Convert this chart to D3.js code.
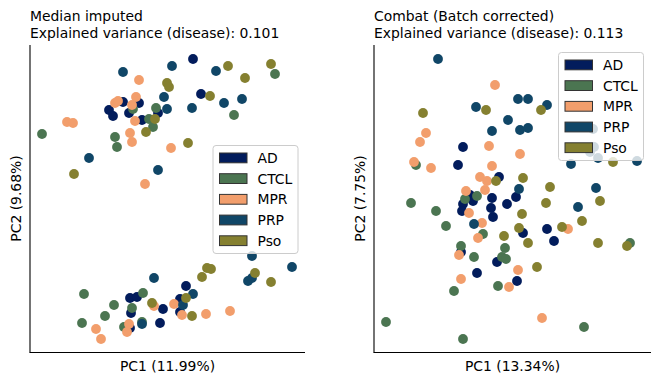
<!DOCTYPE html>
<meta charset="utf-8">
<script src="https://d3js.org/d3.v7.min.js"></script>
<style>
  body { margin: 0; background: #fff; }
  text { font-family: "DejaVu Sans", sans-serif; fill: #000; }
</style>
<div id="my_dataviz"></div>
<script>

var groups = ["AD", "CTCL", "MPR", "PRP", "Pso"];
var colors = ["#021c5c", "#4b7551", "#f29e6c", "#104667", "#858030"];

// Median imputed: [PC1, PC2]
var medAD = [[-4.7,9.8],[-3.1,9.7],[-6.1,9.0],[-5.7,8.4],[-4.1,8.7],[-1.2,8.7],[-2.8,8.0],[2.3,14.1],[3.1,10.6],
  [-4.0,-9.8],[-3.3,-9.7],[-3.9,-11.3],[-0.7,-10.9],[-4.0,-12.8],[-1.0,-12.3],[1.6,-8.6],[1.0,-9.9],[1.0,-11.2]];
var medCTCL = [[-3.7,9.1],[-1.4,9.2],[-2.1,8.1],[-1.7,7.3],[-12.8,6.6],[-5.5,6.3],[-5.3,5.3],[10.5,12.6],[6.4,8.5],
  [-8.6,-9.4],[-2.7,-9.3],[-5.6,-10.5],[-3.8,-10.8],[-6.5,-11.6],[-8.8,-12.3],[-4.6,-12.7],[-2.8,-12.2]];
var medMPR = [[-3.1,12.0],[-3.4,10.3],[-5.5,9.7],[-5.2,9.9],[-3.8,9.5],[-3.5,7.9],[-10.3,7.8],[-9.7,7.7],[-4.0,6.7],
  [-3.8,5.8],[0.1,5.2],[-2.5,1.6],[-1.6,-10.6],[-7.4,-12.9],[-6.9,-13.9],[-4.1,-12.4],[-4.3,-13.2],[0.4,-10.4],
  [1.2,-11.5],[3.6,-11.4],[6.0,-11.1]];
var medPRP = [[-4.7,12.8],[0.2,13.4],[-0.6,10.3],[-0.3,9.1],[4.6,12.9],[2.2,9.2],[5.4,9.7],[7.2,10.1],[-8.1,4.2],
  [-1.2,3.0],[-1.6,-7.8],[-2.8,-12.4],[8.2,-5.6],[12.2,-6.7],[7.8,-8.1],[8.2,-7.8],[2.3,-9.4],[1.3,-10.5]];
var medPso = [[-0.3,11.7],[-0.1,11.3],[-1.5,8.1],[-2.4,6.8],[5.8,13.4],[10.1,13.6],[7.5,12.2],[4.0,10.4],[1.8,5.7],
  [-9.6,2.6],[-1.8,-10.3],[3.7,-6.8],[4.1,-6.9],[3.2,-7.7],[8.5,-7.3],[10.1,-8.2],[1.6,-9.8],[2.2,-11.6]];

// Combat (batch corrected): [PC1, PC2]
var comAD = [[-4.7,5.3],[-5.2,3.5],[-1.1,2.3],[-4.0,0.5],[-3.7,-0.1],[-1.8,0.2],[-4.7,-0.4],[-1.9,-0.8],[-0.3,-0.4],
  [-4.8,-1.1],[-1.7,-1.7],[0.6,0.3],[3.7,-2.9],[1.3,-3.3],[4.4,-4.1],[-4.9,-5.2],[-1.3,-6.2],[-3.3,-7.3],[0.7,-8.1]];
var comCTCL = [[-9.4,3.5],[-4.5,0.1],[-3.3,0.4],[-9.9,-0.3],[-7.4,-1.1],[-6.4,-2.6],[-2.7,-3.4],[-4.9,-4.6],[-0.5,-4.8],
  [12.0,-4.3],[-3.6,-5.7],[-0.8,-5.7],[-0.4,-5.9],[-5.6,-9.1],[-1.2,-8.6],[-12.4,-12.2],[-4.7,-13.9],[7.4,-12.7]];
var comMPR = [[-1.5,11.5],[-8.4,6.7],[-9.0,5.8],[-2.1,5.4],[-9.6,3.8],[-7.9,3.2],[-1.8,3.4],[-3.0,2.3],[-2.3,1.9],
  [-2.5,1.0],[-4.4,0.9],[-4.1,-1.3],[-2.8,-2.3],[-3.2,-3.8],[1.0,4.6],[5.8,-2.9],[-5.1,-5.5],[-4.9,-7.9],
  [-0.1,-8.7],[0.8,-7.0],[3.2,-11.8]];
var comPRP = [[-7.2,14.1],[-3.4,9.3],[-0.2,8.0],[-1.8,6.9],[0.8,10.1],[1.8,10.1],[3.7,9.5],[1.0,7.0],[1.8,7.2],
  [8.3,7.1],[8.4,5.3],[8.0,4.8],[8.8,4.2],[12.7,3.9],[6.1,3.6],[0.9,1.1],[8.6,1.2],[6.8,-0.7],[-3.6,-2.4]];
var comPso = [[-8.7,8.7],[-2.4,9.0],[3.1,9.0],[-1.4,1.9],[-0.6,-3.6],[10.3,3.8],[1.3,2.2],[4.0,1.3],[3.6,-0.3],
  [9.0,-0.1],[1.2,-1.4],[7.2,-2.1],[5.2,-2.7],[0.9,-2.8],[1.8,-4.3],[8.8,-4.3],[11.7,-4.6],[2.7,-6.7]];

var width = 659, height = 383;

var svg = d3.select("#my_dataviz")
  .append("svg")
    .attr("width", width)
    .attr("height", height);

function drawPanel(opts) {
  var x = d3.scaleLinear().domain(opts.xDomain).range([opts.left, opts.right]);
  var y = d3.scaleLinear().domain([-15.2, 15.5]).range([352, 45]);

  var g = svg.append("g");

  // points, group by group
  opts.series.forEach(function(s, i) {
    g.selectAll(null)
      .data(s)
      .enter()
      .append("circle")
        .attr("cx", function(d) { return x(d[0]); })
        .attr("cy", function(d) { return y(d[1]); })
        .attr("r", 4.9)
        .attr("fill", colors[i]);
  });

  // spines (left + bottom only, no ticks)
  g.append("line")
    .attr("x1", opts.left).attr("x2", opts.left)
    .attr("y1", 45).attr("y2", 352.5)
    .attr("stroke", "#000").attr("stroke-width", 1.1);
  g.append("line")
    .attr("x1", opts.left - 0.5).attr("x2", opts.right)
    .attr("y1", 352.5).attr("y2", 352.5)
    .attr("stroke", "#000").attr("stroke-width", 1.1);

  // titles
  g.append("text").attr("x", opts.left).attr("y", 21)
    .style("font-size", "13.9px").text(opts.title);
  g.append("text").attr("x", opts.left).attr("y", 38)
    .style("font-size", "13.9px").text(opts.subtitle);

  // axis labels
  g.append("text")
    .attr("x", (opts.left + opts.right) / 2).attr("y", 371)
    .attr("text-anchor", "middle")
    .style("font-size", "13.9px").text(opts.xLabel);
  g.append("text")
    .attr("transform", "translate(" + (opts.left - 9) + ",198.5) rotate(-90)")
    .attr("text-anchor", "middle")
    .style("font-size", "13.9px").text(opts.yLabel);

  // legend
  var lg = g.append("g").attr("transform", "translate(" + opts.legend[0] + "," + opts.legend[1] + ")");
  lg.append("rect")
    .attr("width", 85).attr("height", 108).attr("rx", 3)
    .attr("fill", "#fff").attr("fill-opacity", 0.8)
    .attr("stroke", "#cccccc").attr("stroke-width", 1);
  groups.forEach(function(name, i) {
    lg.append("rect")
      .attr("x", 6.5).attr("y", 7.5 + i * 20.7)
      .attr("width", 27.5).attr("height", 9.8)
      .attr("fill", colors[i])
      .attr("stroke", "#333").attr("stroke-width", 1);
    lg.append("text")
      .attr("x", 44.5).attr("y", 17.5 + i * 20.7)
      .style("font-size", "13.9px").text(name);
  });
}

drawPanel({
  left: 30, right: 305, xDomain: [-14, 13.5],
  series: [medAD, medCTCL, medMPR, medPRP, medPso],
  title: "Median imputed",
  subtitle: "Explained variance (disease): 0.101",
  xLabel: "PC1 (11.99%)", yLabel: "PC2 (9.68%)",
  legend: [213, 145.5]
});

drawPanel({
  left: 374, right: 651, xDomain: [-13.6, 14.1],
  series: [comAD, comCTCL, comMPR, comPRP, comPso],
  title: "Combat (Batch corrected)",
  subtitle: "Explained variance (disease): 0.113",
  xLabel: "PC1 (13.34%)", yLabel: "PC2 (7.75%)",
  legend: [558.5, 52.5]
});

</script>
